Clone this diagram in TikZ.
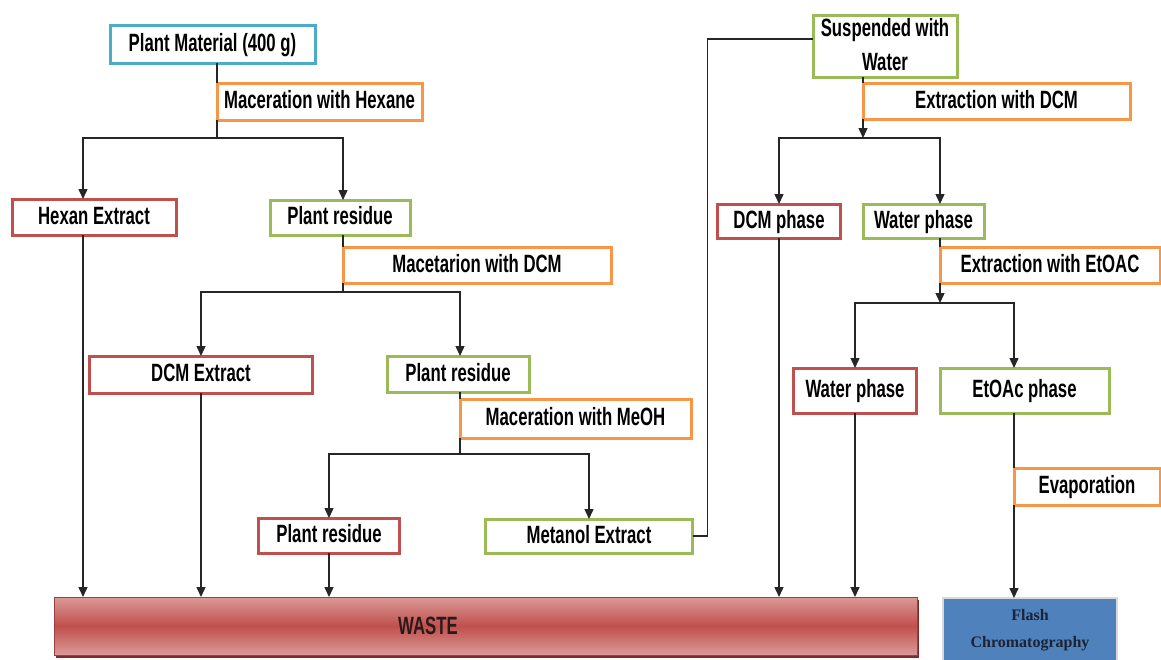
\documentclass[tikz,border=0pt]{standalone}
\usepackage{fontspec}
\usetikzlibrary{arrows.meta,shadows}
\newfontfamily\condfont[FakeStretch=0.67]{Liberation Sans}
\newfontfamily\flashfont{Liberation Serif}
\definecolor{boxblue}{HTML}{4BACC6}
\definecolor{boxorange}{HTML}{F79646}
\definecolor{boxred}{HTML}{C0504D}
\definecolor{boxgreen}{HTML}{9BBB59}
\definecolor{wastelight}{HTML}{DA9A98}
\definecolor{wastedark}{HTML}{7A2E2C}
\definecolor{wastetext}{HTML}{2B1A1A}
\definecolor{flashblue}{HTML}{4F81BD}
\definecolor{flashtext}{HTML}{1C2333}

\begin{document}
\begin{tikzpicture}[x=1pt,y=-1pt,
        box/.style={draw, line width=3pt, fill=white, inner sep=0pt, outer sep=0pt,
            font=\condfont\bfseries\fontsize{25}{34}\selectfont,
            text height=18pt, text depth=4pt},
        bluebox/.style={box, draw=boxblue},
        orangebox/.style={box, draw=boxorange},
        redbox/.style={box, draw=boxred},
        greenbox/.style={box, draw=boxgreen},
        line/.style={draw=black!85, line width=1.4pt},
        arr/.style={line, -{Triangle[length=10pt,width=9pt]}}]

        \useasboundingbox (0,0) rectangle (1161,659);

        \node[bluebox, minimum width=205pt, minimum height=38pt] at (212.5,44) (pm) {Plant Material (400 g)};
        \node[orangebox, minimum width=205pt, minimum height=37pt] at (319.5,101.5) (mh) {Maceration with Hexane};
        \node[redbox, minimum width=164pt, minimum height=36pt] at (94,217) (he) {Hexan Extract};
        \node[greenbox, minimum width=140pt, minimum height=35pt] at (340,217.5) (pr1) {Plant residue};
        \node[orangebox, minimum width=268pt, minimum height=36pt] at (477,265) (mdcm) {Macetarion with DCM};
        \node[redbox, minimum width=223pt, minimum height=37pt] at (201,374.5) (dcme) {DCM Extract};
        \node[greenbox, minimum width=142pt, minimum height=36pt] at (458,374) (pr2) {Plant residue};
        \node[orangebox, minimum width=231pt, minimum height=39pt] at (575.5,418.5) (mmeoh) {Maceration with MeOH};
        \node[redbox, minimum width=141pt, minimum height=35pt] at (329,535.5) (pr3) {Plant residue};
        \node[greenbox, minimum width=207pt, minimum height=34pt] at (589,536) (me) {Metanol Extract};

        \node[greenbox, minimum width=144pt, minimum height=62pt, align=center,
            text height=52pt, text depth=4pt] at (885,46) (sw) {Suspended with\\Water};
        \node[orangebox, minimum width=267pt, minimum height=36pt] at (996.5,101) (edcm) {Extraction with DCM};
        \node[redbox, minimum width=123pt, minimum height=34pt] at (779,221) (dcmp) {DCM phase};
        \node[greenbox, minimum width=121pt, minimum height=34pt] at (923.5,221) (wp1) {Water phase};
        \node[orangebox, minimum width=220pt, minimum height=36pt] at (1050,265) (eetoac) {Extraction with EtOAC};
        \node[redbox, minimum width=123pt, minimum height=45pt] at (855,390.5) (wp2) {Water phase};
        \node[greenbox, minimum width=169pt, minimum height=45pt] at (1024.5,390.5) (etp) {EtOAc phase};
        \node[orangebox, minimum width=146pt, minimum height=37pt] at (1087,486.5) (evap) {Evaporation};

        \node[draw=boxred!80!black, line width=1pt, top color=wastelight, bottom color=wastelight,
            middle color=boxred, minimum width=863pt, minimum height=58pt, outer sep=0pt,
            drop shadow={shadow xshift=2pt, shadow yshift=-3pt, fill=wastedark, opacity=1}]
            at (485.5,626) (waste) {};
        \node[font=\condfont\bfseries\fontsize{25}{30}\selectfont, text=wastetext] at (428,626) (wt) {WASTE};
        \node[draw=black!15, line width=2pt, fill=flashblue, minimum width=174pt, minimum height=64pt,
            outer sep=0pt, align=center, font=\flashfont\bfseries\fontsize{16}{27}\selectfont, text=flashtext]
            at (1030,630) (flash) {Flash\\Chromatography};

        \coordinate (j1) at (217,138);
        \coordinate (j2) at (343,292);
        \coordinate (j3) at (460,454);
        \coordinate (j4) at (863,138);
        \coordinate (j5) at (940,303);

        \draw[line] (pm.south -| j1) -- (mh.north west);
        \draw[line] (mh.south west) -- (j1);
        \draw[arr] (j1) -| ([xshift=-11pt]he.north);
        \draw[arr] (j1) -| (j2 |- pr1.north);
        \draw[line] (pr1.south -| j2) -- (mdcm.north west);
        \draw[line] (mdcm.south west) -- (j2);
        \draw[arr] (j2) -| (dcme.north);
        \draw[arr] (j2) -| (j3 |- pr2.north);
        \draw[line] (pr2.south -| j3) -- (mmeoh.north west);
        \draw[line] (mmeoh.south west) -- (j3);
        \draw[arr] (j3) -| (pr3.north);
        \draw[arr] (j3) -| (me.north);
        \draw[line] (me.east) -- ++(15,0) |- ([yshift=7pt]sw.west);

        \draw[line] (sw.south -| j4) -- (edcm.north west);
        \draw[arr] (edcm.south west) -- (j4);
        \draw[arr] (j4) -| (dcmp.north);
        \draw[arr] (j4) -| (j5 |- wp1.north);
        \draw[line] (wp1.south -| j5) -- (eetoac.north west);
        \draw[arr] (eetoac.south west) -- (j5);
        \draw[arr] (j5) -| (wp2.north);
        \draw[arr] (j5) -| (evap.west |- etp.north);
        \draw[line] (etp.south -| evap.west) -- (evap.north west);
        \draw[arr] (evap.south west) -- (flash.north -| evap.west);

        \draw[arr] ([xshift=-11pt]he.south) -- ([xshift=-11pt]he.south |- waste.north);
        \draw[arr] (dcme.south) -- (dcme.south |- waste.north);
        \draw[arr] (pr3.south) -- (pr3.south |- waste.north);
        \draw[arr] (dcmp.south) -- (dcmp.south |- waste.north);
        \draw[arr] (wp2.south) -- (wp2.south |- waste.north);

    \end{tikzpicture}
\end{document}
